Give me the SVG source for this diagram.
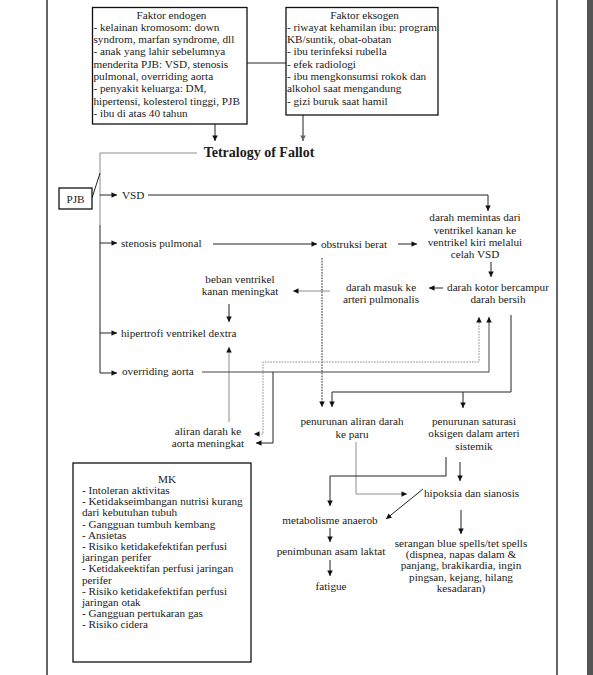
<svg xmlns="http://www.w3.org/2000/svg" width="593" height="675" viewBox="0 0 593 675">
<style>
.t{font-family:"Liberation Serif","Times New Roman",serif;font-size:11.2px;fill:#1a1a1a}
.c{text-anchor:middle}
.b{font-weight:bold;font-size:14px}
.box{fill:#fff;stroke:#111;stroke-width:1.3}
.ln{fill:none;stroke:#222;stroke-width:1}
.g{stroke:#8c8c8c}
.dot{stroke-dasharray:1.6 1.2}
.frame{stroke:#111;stroke-width:1.3}
</style>
<defs>
<marker id="ah" viewBox="0 0 10 10" refX="10" refY="5" markerWidth="7" markerHeight="5.5" markerUnits="userSpaceOnUse" orient="auto-start-reverse"><path d="M0,0L10,5L0,10z" fill="#111"/></marker>
<marker id="ahg" viewBox="0 0 10 10" refX="10" refY="5" markerWidth="7" markerHeight="5.5" markerUnits="userSpaceOnUse" orient="auto-start-reverse"><path d="M0,0L10,5L0,10z" fill="#666"/></marker>
</defs>
<rect width="593" height="675" fill="#fff"/>
<g id="page">
<line class="frame" x1="47" y1="0" x2="47" y2="675"/>
<line class="frame" x1="557" y1="0" x2="557" y2="675"/>
<rect x="587" y="0" width="6" height="675" fill="#555"/>
</g>
<g id="connectors">
<path class="ln" d="M247,63H286"/>
<path class="ln" d="M215,124V141" marker-end="url(#ah)"/>
<path class="ln" d="M303,115V141" marker-end="url(#ahg)"/>
<path class="ln g" d="M197,153H100V225"/>
<path class="ln" d="M100,225V373H117" marker-end="url(#ah)"/>
<path class="ln" d="M92,198L100,173"/>
<path class="ln" d="M100,195H117" marker-end="url(#ah)"/>
<path class="ln" d="M100,243H117" marker-end="url(#ah)"/>
<path class="ln" d="M100,333H117" marker-end="url(#ah)"/>
<path class="ln" d="M148,195H488V211" marker-end="url(#ah)"/>
<path class="ln" d="M213,244H317" marker-end="url(#ah)"/>
<path class="ln" d="M398,244H417" marker-end="url(#ah)"/>
<path class="ln" d="M491,262V277" marker-end="url(#ah)"/>
<path class="ln" d="M443,288H429" marker-end="url(#ah)"/>
<path class="ln g" d="M330,291H293" marker-end="url(#ah)"/>
<path class="ln" d="M229,304V322" marker-end="url(#ah)"/>
<path class="ln g" d="M229,422V347" marker-end="url(#ah)"/>
<path class="ln dot" d="M322,258V407" marker-end="url(#ah)"/>
<path class="ln g dot" d="M479,317V362H263V434H254" marker-start="url(#ah)" marker-end="url(#ah)"/>
<path class="ln" style="stroke:#444" d="M202,372H489V317" marker-end="url(#ah)"/>
<path class="ln" d="M273,372V443H256" marker-end="url(#ah)"/>
<path class="ln" d="M511,315V392H332V407" marker-end="url(#ah)"/>
<path class="ln" d="M463,392V408" marker-end="url(#ah)"/>
<path class="ln g" d="M356,442V494H407" marker-end="url(#ah)"/>
<path class="ln" d="M446,457V476H330V506" marker-end="url(#ah)"/>
<path class="ln" d="M460,462V481" marker-end="url(#ah)"/>
<path class="ln" d="M423,489L386,519" marker-end="url(#ah)"/>
<path class="ln" d="M330,528V542" marker-end="url(#ah)"/>
<path class="ln" d="M330,560V576" marker-end="url(#ah)"/>
<path class="ln" d="M461,510V534" marker-end="url(#ah)"/>
</g>
<g id="endogen">
<rect class="box" x="92.5" y="7.5" width="154.5" height="116.5"/>
<text class="t c" x="171.5" y="18.5">Faktor endogen</text>
<text class="t" x="93.5" y="30.8">- kelainan kromosom: down</text>
<text class="t" x="93.5" y="43.1">syndrom, marfan syndrome, dll</text>
<text class="t" x="93.5" y="55.4">- anak yang lahir sebelumnya</text>
<text class="t" x="93.5" y="67.7">menderita PJB: VSD, stenosis</text>
<text class="t" x="93.5" y="80">pulmonal, overriding aorta</text>
<text class="t" x="93.5" y="92.3">- penyakit keluarga: DM,</text>
<text class="t" x="93.5" y="104.6">hipertensi, kolesterol tinggi, PJB</text>
<text class="t" x="93.5" y="116.9">- ibu di atas 40 tahun</text>
</g>
<g id="eksogen">
<rect class="box" x="286" y="7.5" width="152" height="107.5"/>
<text class="t c" x="364.5" y="18.5">Faktor eksogen</text>
<text class="t" x="287" y="30.8" textLength="150" lengthAdjust="spacingAndGlyphs">- riwayat kehamilan ibu: program</text>
<text class="t" x="287" y="43.1">KB/suntik, obat-obatan</text>
<text class="t" x="287" y="55.4">- ibu terinfeksi rubella</text>
<text class="t" x="287" y="67.7">- efek radiologi</text>
<text class="t" x="287" y="80">- ibu mengkonsumsi rokok dan</text>
<text class="t" x="287" y="92.3">alkohol saat mengandung</text>
<text class="t" x="287" y="104.6">- gizi buruk saat hamil</text>
</g>
<g id="tof"><text class="t c b" x="259" y="157">Tetralogy of Fallot</text></g>
<g id="pjb">
<rect class="box" x="59" y="188" width="33" height="21"/>
<text class="t c" x="75.5" y="202.5">PJB</text>
</g>
<g id="vsd"><text class="t" x="122" y="199">VSD</text></g>
<g id="stenosis"><text class="t" x="121" y="247">stenosis pulmonal</text></g>
<g id="obstruksi"><text class="t c" x="354" y="247.5">obstruksi berat</text></g>
<g id="memintas">
<text class="t c" x="475" y="221.2">darah memintas dari</text>
<text class="t c" x="475" y="233.6">ventrikel kanan ke</text>
<text class="t c" x="475" y="246">ventrikel kiri melalui</text>
<text class="t c" x="475" y="258.4">celah VSD</text>
</g>
<g id="kotor">
<text class="t c" x="498" y="290.8">darah kotor bercampur</text>
<text class="t c" x="498" y="302.8">darah bersih</text>
</g>
<g id="masuk">
<text class="t c" x="381" y="290.5">darah masuk ke</text>
<text class="t c" x="381" y="302.5">arteri pulmonalis</text>
</g>
<g id="beban">
<text class="t c" x="240" y="282.5">beban ventrikel</text>
<text class="t c" x="240" y="295">kanan meningkat</text>
</g>
<g id="hipertrofi"><text class="t" x="121" y="336.5">hipertrofi ventrikel dextra</text></g>
<g id="overriding"><text class="t" x="122" y="375">overriding aorta</text></g>
<g id="aliran">
<text class="t c" x="208" y="434.5">aliran darah ke</text>
<text class="t c" x="208" y="447">aorta meningkat</text>
</g>
<g id="paru">
<text class="t c" x="352" y="425.2">penurunan aliran darah</text>
<text class="t c" x="352" y="437.5">ke paru</text>
</g>
<g id="saturasi">
<text class="t c" x="474" y="425.2">penurunan saturasi</text>
<text class="t c" x="474" y="437.4">oksigen dalam arteri</text>
<text class="t c" x="474" y="449.6">sistemik</text>
</g>
<g id="hipoksia"><text class="t" x="424" y="496.8">hipoksia dan sianosis</text></g>
<g id="metabolisme"><text class="t c" x="330" y="523.5">metabolisme anaerob</text></g>
<g id="laktat"><text class="t c" x="331" y="555">penimbunan asam laktat</text></g>
<g id="fatigue"><text class="t c" x="331" y="590">fatigue</text></g>
<g id="serangan">
<text class="t c" x="461" y="546.8">serangan blue spells/tet spells</text>
<text class="t c" x="461" y="558.1">(dispnea, napas dalam &amp;</text>
<text class="t c" x="461" y="569.4">panjang, brakikardia, ingin</text>
<text class="t c" x="461" y="580.7">pingsan, kejang, hilang</text>
<text class="t c" x="461" y="592">kesadaran)</text>
</g>
<g id="mk">
<rect class="box" x="73" y="463" width="178" height="199"/>
<text class="t c" x="167" y="482.8">MK</text>
<text class="t" x="82" y="494">- Intoleran aktivitas</text>
<text class="t" x="82" y="505.2">- Ketidakseimbangan nutrisi kurang</text>
<text class="t" x="82" y="516.4">dari kebutuhan tubuh</text>
<text class="t" x="82" y="527.6">- Gangguan tumbuh kembang</text>
<text class="t" x="82" y="538.8">- Ansietas</text>
<text class="t" x="82" y="550">- Risiko ketidakefektifan perfusi</text>
<text class="t" x="82" y="561.2">jaringan perifer</text>
<text class="t" x="82" y="572.4">- Ketidakeektifan perfusi jaringan</text>
<text class="t" x="82" y="583.6">perifer</text>
<text class="t" x="82" y="594.8">- Risiko ketidakefektifan perfusi</text>
<text class="t" x="82" y="606">jaringan otak</text>
<text class="t" x="82" y="617.2">- Gangguan pertukaran gas</text>
<text class="t" x="82" y="628.4">- Risiko cidera</text>
</g>
</svg>
